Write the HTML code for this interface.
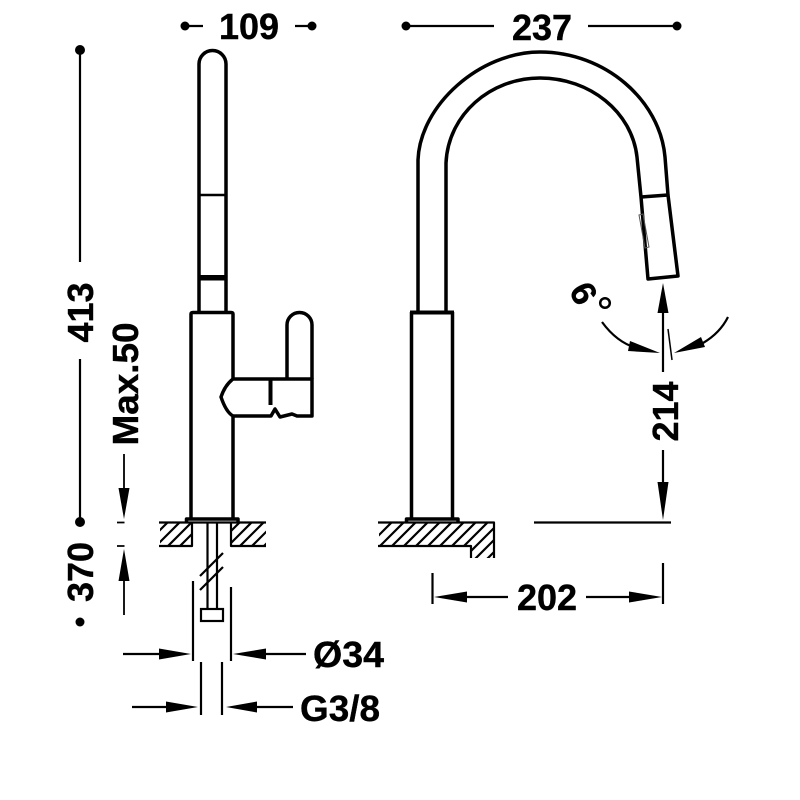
<!DOCTYPE html>
<html><head><meta charset="utf-8"><style>
html,body{margin:0;padding:0;background:#fff;width:800px;height:800px;overflow:hidden}
svg{display:block}
text{font-family:"Liberation Sans",sans-serif;font-weight:700;font-size:36px;fill:#000;stroke:#000;stroke-width:.4}
.o{fill:none;stroke:#000;stroke-width:3.5;stroke-linejoin:round}
.t{fill:none;stroke:#000;stroke-width:2.2}
.h{fill:none;stroke:#000;stroke-width:2.2}
</style></head><body>
<svg width="800" height="800" viewBox="0 0 800 800" xmlns="http://www.w3.org/2000/svg">
<defs>
<clipPath id="c1"><path d="M160 523H191V545H160Z"/></clipPath>
<clipPath id="c2"><path d="M232 523H266V545H232Z"/></clipPath>
<clipPath id="c3"><path d="M379 523H494V558H471V545H379Z"/></clipPath>
</defs>
<rect width="800" height="800" fill="#fff"/>

<!-- Left view: spout -->
<path class="o" d="M199 312V64A13.5 13.5 0 0 1 226 64V312"/>
<path class="o" d="M199 195H225" style="stroke-width:2.5"/>
<path d="M198 275H227V280.500H198Z"/>
<!-- Left view: body -->
<path class="o" d="M191 518V314Q191 312.500 193 312.500H231Q233 312.500 233 314V379M233 417V518"/>
<path class="o" d="M233 379H312V416H297L292 414L280 417L275 409L271 416H233Q226 412 221 397Q225 385 233 379Z" />
<path class="o" d="M287 379V325A12.500 12.500 0 0 1 312 325V379"/>
<path d="M268.500 380H272.500V405H268.500Z"/>
<path class="o" d="M186.500 522V519H238V522"/>
<!-- Left counter -->
<path class="o" style="stroke-width:2.2" d="M159 522.500H266M159 546H192V522M231 522V546H266"/>
<g clip-path="url(#c1)"><path class="h" d="M154 548L182 520M166 548L194 520M178 548L206 520M190 548L218 520M142 548L170 520"/></g>
<g clip-path="url(#c2)"><path class="h" d="M226 548L254 520M238 548L266 520M250 548L278 520M262 548L290 520M214 548L242 520"/></g>
<!-- Supply pipe -->
<path class="t" d="M207.500 523V609M217 523V609"/>
<path class="t" d="M200 576L223 553M200 590L223 567"/>
<rect x="201" y="609" width="22" height="12" fill="#fff" stroke="#000" stroke-width="2.2"/>
<path class="t" d="M193 581V661M231 587V661M201 662V715M222 662V715"/>

<!-- Ø34 / G3/8 arrows -->
<path class="t" d="M123 654H160M265 654H306M132 707H168M256 707H293"/>
<path d="M191 654L159 648.500V659.500Z"/>
<path d="M233 654L266 648.500V659.500Z"/>
<path d="M198 707L166 701.500V712.500Z"/>
<path d="M226 707L257 701.500V712.500Z"/>
<text x="313" y="667" textLength="71" lengthAdjust="spacingAndGlyphs">Ø34</text>
<text x="300" y="721" textLength="80" lengthAdjust="spacingAndGlyphs">G3/8</text>

<!-- Right view: gooseneck -->
<path class="o" d="M418 312V160C420 105 480 52 540 52C605 52 660 100 665 157L668 195L678 276L648 279L641 197L637 157C632 112 590 78 540 78C490 78 448 115 446 163V312"/>
<path class="o" d="M641 197L668 195"/>
<path fill="none" stroke="#555" stroke-width="1" d="M639 215L643 214L649 247L645 248Z"/>
<!-- Right body -->
<path d="M410 310.500H454V314.500H410Z"/>
<path class="o" d="M411.500 312V518M452.500 312V518"/>
<path class="o" d="M406.500 522V519H458V522"/>
<path class="o" style="stroke-width:2.2" d="M378 522.500H494V558M378 546H471V558"/>
<g clip-path="url(#c3)"><path class="h" d="M354 560L394 520M366 560L406 520M378 560L418 520M390 560L430 520M402 560L442 520M414 560L454 520M426 560L466 520M438 560L478 520M450 560L490 520M462 560L502 520M474 560L514 520M486 560L526 520"/></g>

<!-- 202 -->
<path class="t" d="M432.500 573V604M663 563V604M534 522.500H671"/>
<path class="t" d="M466 597H508M586 597H630"/>
<path d="M434 597L467 591.500V602.500Z"/>
<path d="M662 597L629 591.500V602.500Z"/>
<text x="547" y="610" text-anchor="middle">202</text>

<!-- 214 -->
<path class="t" d="M663 312V372M663 450V482"/>
<path d="M663 283L657.500 313H668.500Z"/>
<path d="M663 520L657.500 482H668.500Z"/>
<text transform="translate(678 411.500) rotate(-90)" text-anchor="middle">214</text>

<!-- 6 deg -->
<path class="t" style="stroke-width:1.500" d="M668 329L672 360"/>
<path class="t" d="M602 322Q618 344 640 349M728 317Q720 333 703 343"/>
<path d="M660 353L630 341L628 351Z"/>
<path d="M674 353L701 337L705 347Z"/>
<text transform="translate(573 299) rotate(62)" style="font-size:35px" text-anchor="middle">6</text>
<circle cx="605" cy="303" r="4.800" fill="none" stroke="#000" stroke-width="2.500"/>

<!-- Top dims -->
<path class="t" d="M185 26H203M295 26H312M406 26H494M588 26H677"/>
<circle cx="185" cy="26" r="4.500"/><circle cx="312" cy="26" r="4.500"/>
<circle cx="406" cy="26" r="4.500"/><circle cx="677" cy="26" r="4.500"/>
<text x="249" y="39" text-anchor="middle">109</text>
<text x="542" y="40" text-anchor="middle">237</text>

<!-- Left dims -->
<path class="t" d="M80 50V262M80 359V523"/>
<circle cx="80" cy="50" r="5"/><circle cx="80" cy="522" r="5"/><circle cx="80" cy="622" r="4.500"/>
<text transform="translate(93 312.500) rotate(-90)" text-anchor="middle">413</text>
<text transform="translate(93 572) rotate(-90)" text-anchor="middle">370</text>
<text transform="translate(138 384) rotate(-90)" text-anchor="middle" textLength="123" lengthAdjust="spacingAndGlyphs">Max.50</text>
<path class="t" d="M124 454V490M124 580V615M117 522.500H124.500M117 546H124.500" style="stroke-width:1.800"/>
<path d="M124 519L118.500 488H129.500Z"/>
<path d="M124 549L118.500 581H129.500Z"/>
</svg>
</body></html>
